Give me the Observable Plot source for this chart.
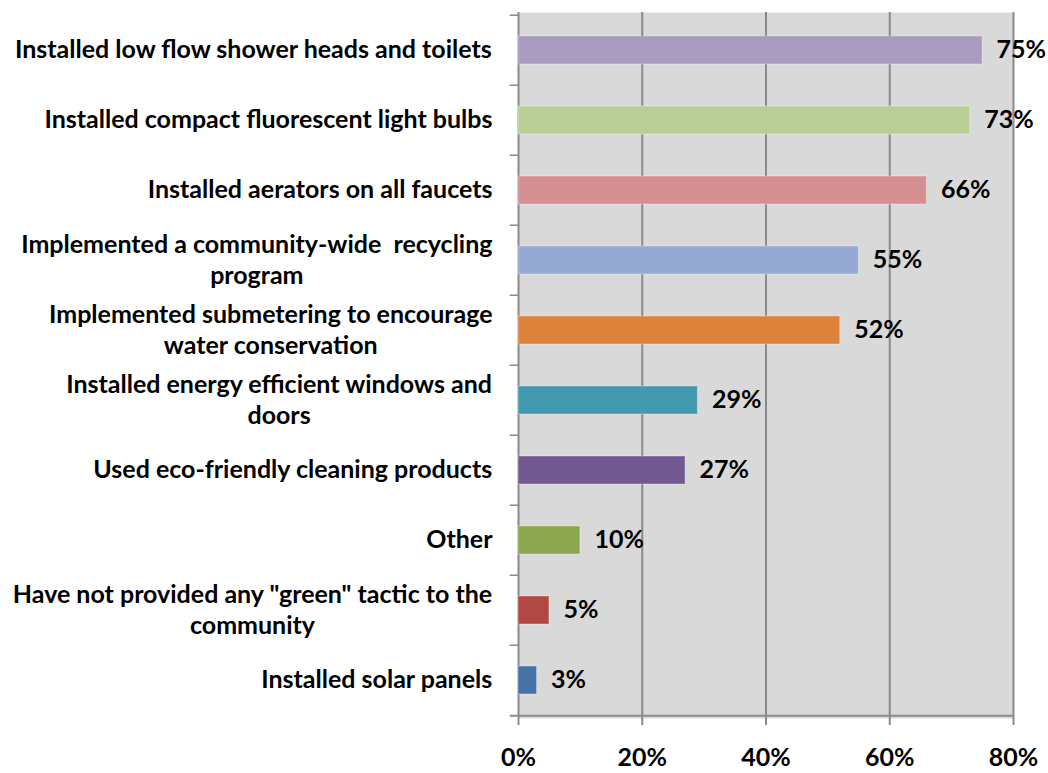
<!DOCTYPE html>
<html><head><meta charset="utf-8">
<script src="https://cdn.jsdelivr.net/npm/d3@7"></script>
<script src="https://cdn.jsdelivr.net/npm/@observablehq/plot@0.6"></script>
<style>
html,body{margin:0;padding:0;background:#fff;}
#chart svg [aria-label="x-axis tick"] { stroke:#8a8a8a; stroke-width:2px; }
</style>
</head><body><div id="chart"></div>
<script>
const categories = [
  "Installed low flow shower heads and toilets",
  "Installed compact fluorescent light bulbs",
  "Installed aerators on all faucets",
  "Implemented a community-wide  recycling\nprogram",
  "Implemented submetering to encourage\nwater conservation",
  "Installed energy efficient windows and\ndoors",
  "Used eco-friendly cleaning products",
  "Other",
  "Have not provided any \"green\" tactic to the\ncommunity",
  "Installed solar panels"
];
const values = [75, 73, 66, 55, 52, 29, 27, 10, 5, 3];
const colors = ["#a99abf", "#b9cd96", "#d49091", "#95a9d3", "#dd823b", "#4299b0", "#71588f", "#8ba64f", "#b14844", "#4672a7"];
const xTicks = [0, 20, 40, 60, 80];

const FONT = "Lato";
const FS = 25;
const W = 1048, H = 773;
const mT = 12, mB = 55, mL = 518, mR = 35;
const half = (H - mT - mB) / categories.length / 2;

const data = categories.map((c, i) => ({cat: c, value: values[i], color: colors[i]}));

const ctx = document.createElement("canvas").getContext("2d");
ctx.font = `bold ${FS}px ${FONT}`;
const blockWidth = s => Math.max(...s.split("\n").map(l => ctx.measureText(l).width));

const labelMarks = data.map(d => Plot.text([d], {
  y: "cat", text: "cat", frameAnchor: "left", textAnchor: "middle",
  dx: -(26 + blockWidth(d.cat) / 2), dy: -2, lineHeight: 1.24,
  fontSize: FS, fontWeight: "bold", fill: "#000"
}));

const chart = Plot.plot({
  width: W, height: H,
  marginTop: mT, marginBottom: mB, marginLeft: mL, marginRight: mR,
  style: {fontFamily: FONT, background: "#fff", overflow: "visible"},
  x: {domain: [0, 80]},
  y: {domain: categories, paddingInner: 0.6, paddingOuter: 0.3, axis: null},
  color: {type: "identity"},
  marks: [
    Plot.frame({fill: "#d9d9d9", stroke: "none"}),
    Plot.gridX(xTicks, {stroke: "#8a8a8a", strokeOpacity: 1, strokeWidth: 2}),
    Plot.barX(data, {x: "value", y: "cat", fill: "color", stroke: "#fff", strokeOpacity: 0.35, strokeWidth: 1}),
    Plot.ruleY(categories, {y: d => d, dy: -half, x1: -1.35, x2: 0, stroke: "#8a8a8a", strokeWidth: 1.5}),
    Plot.ruleY(categories.slice(-1), {y: d => d, dy: half, x1: -1.35, x2: 80, stroke: "#8a8a8a", strokeWidth: 2}),
    Plot.axisX(xTicks, {tickFormat: d => d + "%", tickSize: 7, tickPadding: 23, fontSize: FS, fontWeight: "bold", fill: "#000", label: null}),
    Plot.text(data, {x: "value", y: "cat", text: d => d.value + "%", textAnchor: "start", dx: 14, dy: -1, fontSize: FS, fontWeight: "bold", fill: "#000"}),
    ...labelMarks
  ]
});
document.getElementById("chart").appendChild(chart);
</script>
</body></html>
